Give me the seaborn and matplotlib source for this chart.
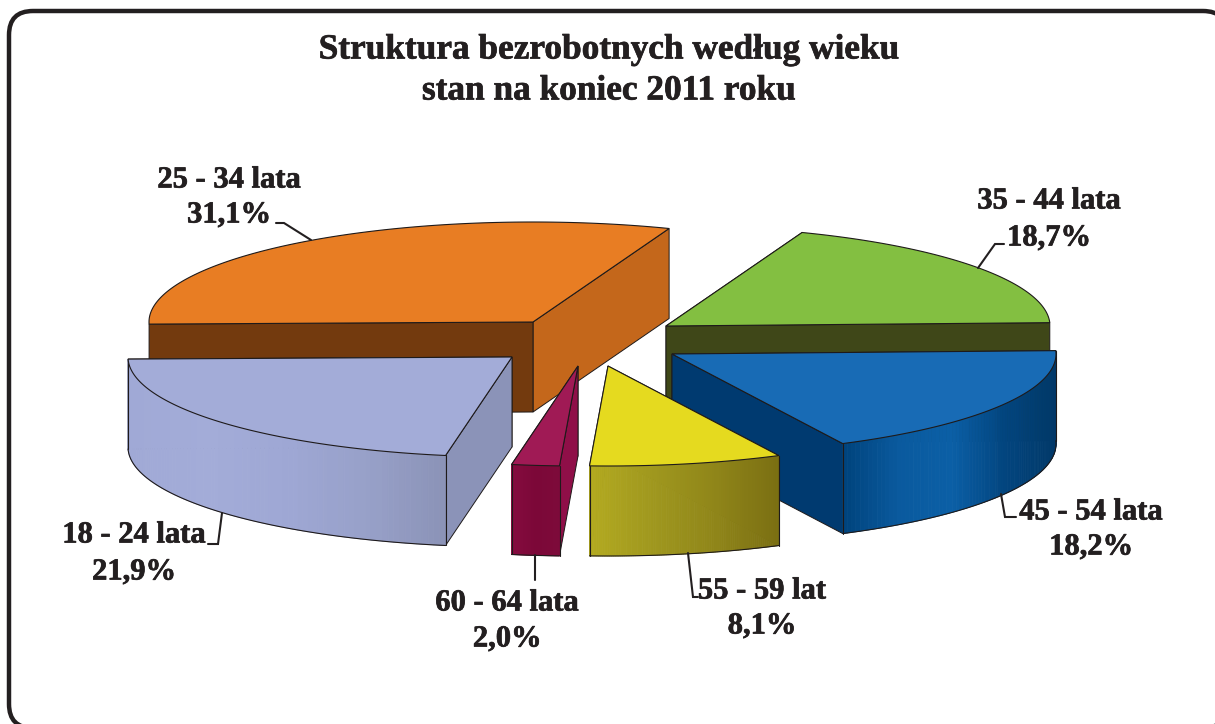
import numpy as np
import matplotlib
matplotlib.use('Agg')
import matplotlib.pyplot as plt
import matplotlib.patheffects as pe
from matplotlib.patches import FancyBboxPatch
import seaborn as sns

# slices clockwise from the left edge of the pie
age_labels = ['25 - 34 lata', '35 - 44 lata', '45 - 54 lata', '55 - 59 lat', '60 - 64 lata', '18 - 24 lata']
shares = [31.1, 18.7, 18.2, 8.1, 2.0, 21.9]
share_labels = ['31,1%', '18,7%', '18,2%', '8,1%', '2,0%', '21,9%']
title_lines = ['Struktura bezrobotnych według wieku', 'stan na koniec 2011 roku']

sns.set_theme(style='white')
plt.rcParams['font.family'] = ['Liberation Serif', 'DejaVu Serif']

# pie layout, in pixels
rx, ry, depth = 384, 100, 90
start_angle = 181.2
apex = [(533, 322), (666, 326), (672, 354), (608, 366), (578, 366), (512, 357)]
draw_order = [0, 1, 5, 2, 3, 4]

top_colors = ['#e87d23', '#83bf41', '#186bb5', '#e5da1f', '#a01a55', '#a3acd8']
start_wall = ['#733a0e', '#3f4718', '#3f4718', '#b0a81e', '#8f0f48', '#8b93b8']
end_wall = ['#c4671b', '#3f4718', '#003a70', '#7d7014', '#800a3c', '#a3acd8']
arc_colors = [['#c4671b'] * 2, ['#3f4718'] * 2,
              ['#00447e', '#0a5a9e', '#0b5fa6', '#02457f', '#013868'],
              ['#b3aa20', '#9f971e', '#8f8519', '#7a6e12'],
              ['#850b3f', '#7c0838', '#7d0a3a'],
              ['#a0a9d6', '#a3acd8', '#9ea7d4', '#97a0c8', '#8a92b6']]
edge = '#1e1a1a'
ink = '#231f20'
bold = [pe.withStroke(linewidth=0.5, foreground=ink)]

fig = plt.figure(figsize=(12.15, 7.24), dpi=100)
ax = fig.add_axes([0, 0, 1, 1])
ax.set_xlim(0, 1215)
ax.set_ylim(724, 0)
ax.axis('off')

ax.add_patch(FancyBboxPatch((9, 11), 1218, 717, boxstyle='round,pad=0,rounding_size=24',
                            fc='white', ec=ink, lw=3.2))

ends = start_angle - np.cumsum(shares) * 3.6
starts = np.r_[start_angle, ends[:-1]]


def rim(i, t):
    t = np.radians(t)
    return apex[i][0] + rx * np.cos(t), apex[i][1] - ry * np.sin(t)


for i in draw_order:
    cx, cy = apex[i]
    a0, a1 = starts[i], ends[i]

    # flat walls along both cut edges, the one further back first
    walls = [(a0, start_wall[i]), (a1, end_wall[i])]
    walls.sort(key=lambda w: rim(i, w[0])[1])
    for a, col in walls:
        x, y = rim(i, a)
        ax.fill([cx, x, x, cx], [cy, y, y + depth, cy + depth], fc=col, ec=edge, lw=0.7)

    # curved wall, only the part that faces the viewer
    lo, hi = max(a1, -180), min(a0, 0)
    if a0 > 0 and a1 < 0:
        hi = a0 if a0 < 10 else 0
    if lo < hi:
        tt = np.linspace(lo, hi, 90)
        xs, ys = rim(i, tt)
        pal = sns.blend_palette(arc_colors[i], n_colors=len(tt) - 1)
        xspan = xs.max() - xs.min()
        for k in range(len(tt) - 1):
            c = pal[int((xs[k] - xs.min()) / xspan * (len(tt) - 2))]
            ax.fill([xs[k], xs[k + 1], xs[k + 1], xs[k]],
                    [ys[k], ys[k + 1], ys[k + 1] + depth, ys[k] + depth], fc=c, ec=c, lw=0.6)
        ax.plot(xs, ys + depth, color=edge, lw=0.8)
        ax.plot([xs[0], xs[0]], [ys[0], ys[0] + depth], color=edge, lw=0.8)
        ax.plot([xs[-1], xs[-1]], [ys[-1], ys[-1] + depth], color=edge, lw=0.8)

    # top face
    tt = np.linspace(a0, a1, 120)
    xs, ys = rim(i, tt)
    ax.fill(np.r_[cx, xs], np.r_[cy, ys], fc=top_colors[i], ec=edge, lw=0.8, zorder=2 + draw_order.index(i) * 0.01)

# leader lines and labels
leaders = [[(276, 223), (284, 223), (311, 240)],
           [(1004, 244), (995, 244), (978, 268)],
           [(1001, 494), (1005, 517), (1016, 517)],
           [(688, 553), (693, 597), (698, 597)],
           [(535, 555), (535, 580)],
           [(222, 513), (218, 544), (208, 544)]]
label_pos = [(229, 180), (1049, 201), (1091, 512), (762, 591), (507, 603), (134, 535)]
value_pos = [(229, 215), (1049, 238), (1091, 547), (762, 626), (507, 639), (134, 572)]

for i in range(len(shares)):
    ax.plot(*zip(*leaders[i]), color=ink, lw=1.5, zorder=5, solid_joinstyle='miter')
    ax.text(*label_pos[i], age_labels[i], ha='center', va='center', fontsize=22,
            fontweight='bold', color=ink, zorder=6, path_effects=bold)
    ax.text(*value_pos[i], share_labels[i], ha='center', va='center', fontsize=22,
            fontweight='bold', color=ink, zorder=6, path_effects=bold)

ax.text(609, 50, title_lines[0], ha='center', va='center', fontsize=25.4, fontweight='bold', color=ink, path_effects=bold)
ax.text(609, 91, title_lines[1], ha='center', va='center', fontsize=25.4, fontweight='bold', color=ink, path_effects=bold)

fig.savefig('out.png', dpi=100)
